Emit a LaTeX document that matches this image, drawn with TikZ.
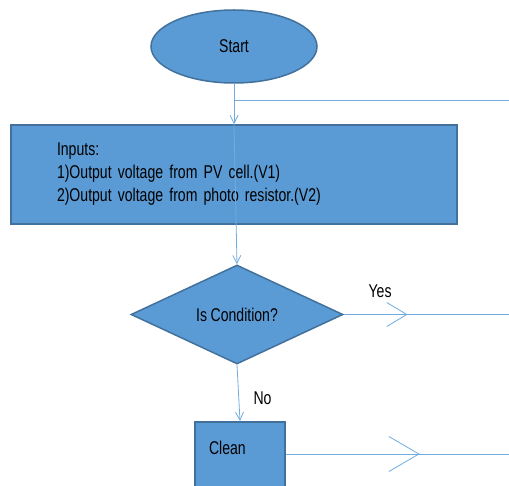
\documentclass[tikz,border=0pt]{standalone}
\usepackage{fontspec}
\setmainfont{Liberation Sans}[FakeStretch=0.76]
\usepackage{tikz}
\usetikzlibrary{shapes,arrows.meta,positioning,calc,decorations.markings}
\definecolor{boxBlue}{RGB}{91,155,213}
\definecolor{boxEdge}{RGB}{65,113,156}
\definecolor{lineBlue}{RGB}{112,172,224}
\tikzset{
  flowbox/.style={draw=boxEdge,line width=1.5pt,fill=boxBlue},
  flowline/.style={draw=lineBlue,line width=0.8pt},
  smalltip/.style={-{Straight Barb[length=8pt,width=8pt]}},
  midbarb/.style n args={3}{postaction={decorate},
    decoration={markings,mark=at position #1 with
      {\arrow[lineBlue,line width=0.8pt]{Straight Barb[length=#2,width=#3]}}}}
}

\begin{document}
\begin{tikzpicture}[x=1pt,y=-1pt,font={\fontsize{18.5}{23}\selectfont\spaceskip=3.6pt\relax}]
\useasboundingbox (0,0) rectangle (509,486);
\clip (0,0) rectangle (509,486);
\node[flowbox,ellipse,minimum width=166pt,minimum height=73pt,inner sep=0pt]
  (start) at (234,46.5) {Start};
\node[flowbox,rectangle,minimum height=99pt,text width=354pt,inner xsep=46pt,align=left]
  (inputs) at (234,174.5)
  {Inputs:\\1)Output voltage from PV cell.(V1)\\2)Output voltage from photo resistor.(V2)};
\node[flowbox,diamond,minimum width=212pt,minimum height=99pt,inner sep=0pt]
  (cond) at (237,314.5) {Is Condition?};
\node[flowbox,rectangle,anchor=north,text width=62pt,inner xsep=14pt,inner ysep=20pt,
      text height=13pt,text depth=45pt,align=left]
  (clean) at (240,421) {Clean};
\coordinate (fork) at (234,100);
\coordinate (forkend) at (509,100);
\coordinate (yesend) at (509,314.5);
\coordinate (cleanend) at (509,454);
% connectors
\draw[flowline,smalltip] (start.south) -- (inputs.north);
\draw[flowline] (fork) -- (forkend);
\draw[flowline,smalltip] (inputs.north) -- (cond.north);
\draw[flowline,midbarb={0.386}{20pt}{24pt}] (cond.east) -- (yesend)
  node[pos=0.22,above=13pt] {Yes};
\draw[flowline,smalltip] (cond.south) -- (clean.north)
  node[pos=0.6,right=11pt] {No};
\draw[flowline,midbarb={0.6}{30pt}{35pt}] (clean.east |- cleanend) -- (cleanend);
\end{tikzpicture}
\end{document}
